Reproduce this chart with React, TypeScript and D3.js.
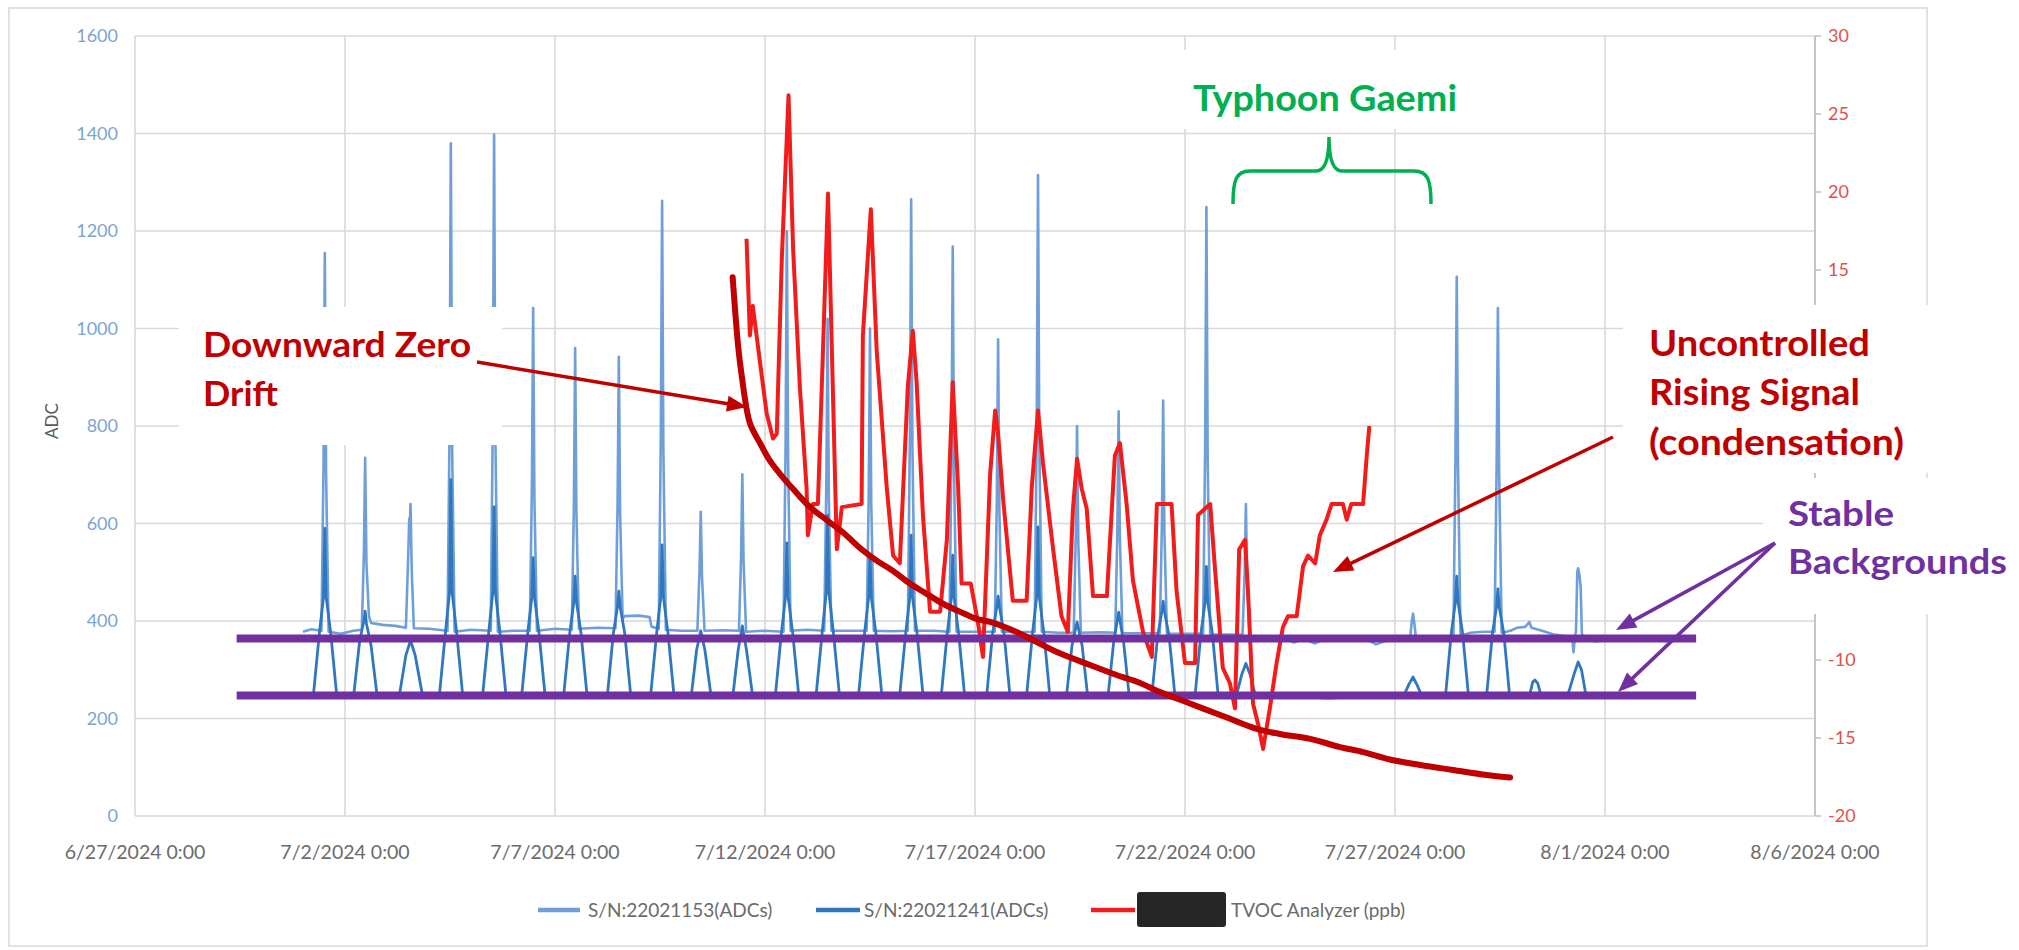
import React from "react";
import * as d3 from "d3";

// ---------------- DATA ----------------
const T0 = Date.UTC(2024, 5, 27); // 6/27/2024 0:00
const dayToDate = (d: number) => new Date(T0 + d * 86400000);

const xTickLabels = [
  "6/27/2024 0:00", "7/2/2024 0:00", "7/7/2024 0:00", "7/12/2024 0:00", "7/17/2024 0:00",
  "7/22/2024 0:00", "7/27/2024 0:00", "8/1/2024 0:00", "8/6/2024 0:00",
];
const leftTicks = [0, 200, 400, 600, 800, 1000, 1200, 1400, 1600];
const rightTicks = [-20, -15, -10, -5, 0, 5, 10, 15, 20, 25, 30];
const seriesNames = ["S/N:22021153(ADCs)", "S/N:22021241(ADCs)", "TVOC Analyzer (ppb)"];
const seriesColors = ["#6E9FD8", "#2F77BF", "#F21C1C"];

// [days since 6/27/2024 0:00, ADC]
const s22021153: [number, number][] = [
  [4.0, 378], [4.2, 383], [4.44, 380], [4.49, 730], [4.52, 1155], [4.55, 700], [4.61, 378], [4.9, 374], [5.2, 380],
  [5.4, 382], [5.45, 540], [5.48, 735], [5.51, 520], [5.57, 410], [5.62, 396], [5.9, 392], [6.2, 390], [6.45, 386],
  [6.5, 520], [6.53, 610], [6.545, 600], [6.56, 640], [6.59, 500], [6.64, 385], [7.0, 384],
  [7.44, 380], [7.49, 800], [7.52, 1380], [7.55, 760], [7.61, 378], [8.0, 382],
  [8.47, 380], [8.52, 820], [8.55, 1398], [8.58, 780], [8.64, 378], [9.0, 380],
  [9.4, 380], [9.45, 680], [9.48, 1042], [9.51, 650], [9.57, 380], [10.0, 384],
  [10.4, 382], [10.45, 640], [10.48, 960], [10.51, 620], [10.57, 384], [11.0, 386],
  [11.44, 385], [11.49, 640], [11.52, 942], [11.55, 620], [11.61, 405], [11.66, 410], [12.0, 411], [12.25, 408], [12.3, 388],
  [12.47, 384], [12.52, 780], [12.55, 1262], [12.58, 750], [12.64, 382], [13.0, 380],
  [13.39, 380], [13.44, 500], [13.47, 624], [13.5, 490], [13.56, 380], [14.0, 381],
  [14.38, 380], [14.43, 530], [14.46, 701], [14.49, 520], [14.55, 378], [15.0, 380],
  [15.44, 378], [15.49, 760], [15.52, 1200], [15.55, 730], [15.61, 380], [16.0, 382],
  [16.41, 380], [16.46, 680], [16.49, 1020], [16.52, 650], [16.58, 380], [17.0, 380],
  [17.42, 380], [17.47, 660], [17.5, 1000], [17.53, 640], [17.59, 380], [18.0, 379],
  [18.4, 380], [18.45, 780], [18.48, 1265], [18.51, 760], [18.57, 380], [19.0, 380],
  [19.39, 378], [19.44, 740], [19.47, 1168], [19.5, 720], [19.56, 378], [20.0, 378],
  [20.47, 378], [20.52, 650], [20.55, 978], [20.58, 630], [20.64, 378], [21.0, 377],
  [21.42, 378], [21.47, 800], [21.5, 1315], [21.53, 780], [21.59, 378], [22.0, 376],
  [22.35, 376], [22.4, 580], [22.43, 800], [22.46, 560], [22.52, 376], [23.0, 377],
  [23.34, 376], [23.39, 590], [23.42, 830], [23.45, 570], [23.51, 375], [24.0, 375],
  [24.4, 375], [24.45, 600], [24.48, 852], [24.51, 580], [24.57, 374], [25.0, 374],
  [25.43, 374], [25.48, 760], [25.51, 1249], [25.54, 730], [25.6, 372], [26.0, 372],
  [26.37, 372], [26.42, 500], [26.45, 640], [26.48, 480], [26.54, 368],
  [26.8, 365], [27.1, 362], [27.3, 366], [27.6, 356], [27.8, 364], [28.1, 354], [28.3, 362], [28.7, 366],
  [29.0, 360], [29.3, 364], [29.55, 352], [29.8, 360], [30.1, 366],
  [30.36, 365], [30.4, 400], [30.43, 415], [30.46, 395], [30.5, 365], [30.8, 362], [31.1, 360],
  [31.39, 362], [31.44, 740], [31.47, 1106], [31.5, 720], [31.56, 370], [31.8, 376], [32.1, 378],
  [32.37, 378], [32.42, 720], [32.45, 1042], [32.48, 700], [32.54, 376], [32.75, 380], [32.9, 386],
  [33.1, 388], [33.2, 398], [33.25, 386], [33.5, 380], [33.8, 372], [34.1, 368], [34.22, 365], [34.25, 336], [34.28, 362],
  [34.31, 380], [34.34, 500], [34.36, 508], [34.39, 495], [34.42, 470], [34.45, 372], [34.6, 362], [34.8, 358], [34.95, 362],
];

const s22021241: [number, number][] = [
  [4.0, 250], [4.25, 250], [4.39, 375], [4.49, 450], [4.52, 590], [4.55, 450], [4.66, 375], [4.8, 250],
  [5.21, 250], [5.35, 360], [5.45, 400], [5.48, 420], [5.51, 395], [5.62, 350], [5.76, 250],
  [6.3, 250], [6.45, 330], [6.56, 360], [6.67, 330], [6.84, 250],
  [7.25, 250], [7.39, 375], [7.49, 460], [7.52, 690], [7.55, 460], [7.66, 375], [7.8, 250],
  [8.28, 250], [8.42, 375], [8.52, 460], [8.55, 634], [8.58, 460], [8.69, 375], [8.83, 250],
  [9.21, 250], [9.35, 375], [9.45, 450], [9.48, 530], [9.51, 450], [9.62, 375], [9.76, 250],
  [10.21, 250], [10.35, 375], [10.45, 440], [10.48, 492], [10.51, 440], [10.62, 375], [10.76, 250],
  [11.25, 250], [11.39, 375], [11.49, 430], [11.52, 461], [11.55, 430], [11.66, 375], [11.8, 250],
  [12.28, 250], [12.42, 375], [12.52, 450], [12.55, 556], [12.58, 450], [12.69, 375], [12.83, 250],
  [13.25, 250], [13.37, 340], [13.47, 380], [13.57, 340], [13.71, 250],
  [14.24, 250], [14.36, 340], [14.46, 390], [14.56, 340], [14.7, 250],
  [15.25, 250], [15.39, 375], [15.49, 450], [15.52, 560], [15.55, 450], [15.66, 375], [15.8, 250],
  [16.22, 250], [16.36, 375], [16.46, 460], [16.49, 617], [16.52, 460], [16.63, 375], [16.77, 250],
  [17.23, 250], [17.37, 375], [17.47, 450], [17.5, 535], [17.53, 450], [17.64, 375], [17.78, 250],
  [18.21, 250], [18.35, 375], [18.45, 450], [18.48, 576], [18.51, 450], [18.62, 375], [18.76, 250],
  [19.2, 250], [19.34, 375], [19.44, 450], [19.47, 535], [19.5, 450], [19.61, 375], [19.75, 250],
  [20.28, 249], [20.42, 375], [20.52, 430], [20.55, 451], [20.58, 430], [20.69, 375], [20.83, 249],
  [21.23, 248], [21.37, 375], [21.47, 450], [21.5, 593], [21.53, 450], [21.64, 375], [21.78, 248],
  [22.18, 248], [22.31, 350], [22.43, 398], [22.55, 350], [22.68, 248],
  [23.17, 248], [23.3, 355], [23.42, 418], [23.54, 355], [23.67, 248],
  [24.21, 247], [24.35, 370], [24.45, 420], [24.48, 440], [24.51, 420], [24.62, 370], [24.76, 247],
  [25.24, 247], [25.38, 375], [25.48, 440], [25.51, 512], [25.54, 440], [25.65, 375], [25.79, 247],
  [26.22, 246], [26.35, 290], [26.45, 313], [26.55, 290], [26.68, 246],
  [27.2, 243], [27.8, 245], [28.4, 242], [29.0, 244], [29.6, 243], [30.2, 245],
  [30.33, 270], [30.43, 285], [30.53, 268], [30.65, 244],
  [31.2, 244], [31.34, 375], [31.44, 440], [31.47, 492], [31.5, 440], [31.61, 375], [31.75, 246],
  [32.18, 246], [32.32, 375], [32.42, 430], [32.45, 466], [32.48, 430], [32.59, 375], [32.73, 246],
  [33.2, 246], [33.28, 275], [33.33, 279], [33.4, 272], [33.48, 246],
  [34.1, 244], [34.26, 290], [34.36, 316], [34.44, 300], [34.55, 246], [34.8, 243], [34.95, 245],
];

// [days since 6/27/2024 0:00, ppb]
const tvocPpb: [number, number][] = [
  [14.56, 17.0], [14.64, 10.8], [14.71, 12.7], [14.88, 9.1], [15.04, 5.8], [15.19, 4.2], [15.28, 4.5],
  [15.4, 15.7], [15.56, 26.2], [15.67, 16.3], [15.83, 7.5], [15.99, 1.0], [16.02, -2.0], [16.14, 0.0], [16.26, 0.0],
  [16.38, 9.8], [16.5, 19.9], [16.59, 10.1], [16.71, -2.9], [16.83, -0.2], [17.3, 0.0],
  [17.33, 10.8], [17.52, 18.9], [17.66, 9.8], [17.9, 1.0], [18.05, -3.3], [18.21, -3.8],
  [18.4, 7.5], [18.52, 11.1], [18.61, 7.8], [18.76, -0.7], [18.93, -6.9], [19.17, -6.9],
  [19.33, -2.3], [19.47, 7.8], [19.6, 1.0], [19.68, -5.1], [19.9, -5.1], [20.07, -7.6], [20.19, -9.8],
  [20.36, 1.9], [20.48, 6.0], [20.55, 4.5], [20.67, 0.3], [20.9, -6.2], [21.23, -6.2],
  [21.35, 1.0], [21.5, 6.0], [21.62, 2.6], [21.86, -2.9], [22.06, -7.2], [22.21, -8.2],
  [22.33, -0.4], [22.43, 2.9], [22.54, 1.0], [22.66, -0.3], [22.81, -5.9], [23.14, -5.9],
  [23.33, 3.1], [23.45, 3.9], [23.61, 0.0], [23.76, -4.9], [24.0, -8.2], [24.21, -9.8],
  [24.33, 0.0], [24.68, 0.0], [24.8, -5.6], [25.0, -10.2], [25.24, -10.2],
  [25.31, -0.7], [25.6, 0.0], [25.71, -4.0], [25.9, -10.5], [26.07, -11.5], [26.19, -13.1],
  [26.29, -2.9], [26.43, -2.3], [26.5, -5.6], [26.62, -12.8], [26.74, -14.1], [26.86, -15.7],
  [27.02, -13.1], [27.18, -10.2], [27.33, -7.9], [27.45, -7.2], [27.66, -7.2], [27.81, -4.0],
  [27.93, -3.3], [28.1, -3.8], [28.21, -2.0], [28.37, -1.0], [28.49, 0.0], [28.76, 0.0],
  [28.85, -1.0], [28.96, 0.0], [29.24, 0.0], [29.33, 3.2], [29.39, 5.0],
];

// hand-drawn "Downward Zero Drift" trend, in [day, ppb]
const driftTrend: [number, number][] = [
  [14.23, 14.53], [14.36, 10.13], [14.45, 8.14], [14.64, 5.19], [14.88, 3.91], [15.12, 2.76], [15.36, 1.92],
  [15.67, 0.96], [16.07, -0.19], [16.47, -1.03], [16.86, -1.83], [17.26, -2.82], [17.66, -3.63], [18.05, -4.29],
  [18.45, -5.1], [18.85, -5.76], [19.25, -6.41], [19.64, -6.9], [20.04, -7.37], [20.36, -7.56], [20.99, -8.21],
  [21.95, -9.49], [22.74, -10.32], [23.37, -10.96], [23.93, -11.47], [24.33, -11.97], [25.12, -12.79],
  [25.9, -13.59], [26.71, -14.42], [27.26, -14.74], [27.98, -15.06], [28.69, -15.58], [29.24, -15.9],
  [29.88, -16.38], [30.6, -16.73], [31.38, -17.05], [32.18, -17.37], [32.74, -17.53],
];

// stable background guide lines (ADC) and their day span
const stableLevels = [364, 247];
const stableSpan = [2.42, 37.17];

// ---------------- LAYOUT ----------------
const W = 2019;
const H = 950;
const PL = 135, PR = 1815, PT = 36, PB = 816;
const FONT = "Lato, 'Open Sans', 'Liberation Sans', sans-serif";
const DARKRED = "#C00000";
const GREEN = "#00B050";
const PURPLE = "#7030A0";

// white label boxes [x, y, w, h]
const boxes: [number, number, number, number][] = [
  [179, 307, 323, 138],
  [1172, 50, 308, 79],
  [1623, 305, 312, 168],
  [1763, 478, 256, 136],
];
const covered = (px: number, py: number) =>
  boxes.some(([bx, by, bw, bh]) => px >= bx && px <= bx + bw && py >= by - 8 && py <= by + bh + 8);

function Arrow({ x1, y1, x2, y2, color, w = 3.5, head = 20, hw = 8 }: any) {
  const dx = x2 - x1, dy = y2 - y1;
  const L = Math.hypot(dx, dy);
  const ux = dx / L, uy = dy / L;
  const bx = x2 - ux * head, by = y2 - uy * head;
  const px = -uy * hw, py = ux * hw;
  return (
    <g>
      <line x1={x1} y1={y1} x2={bx + ux * 2} y2={by + uy * 2} stroke={color} strokeWidth={w} />
      <polygon points={`${x2},${y2} ${bx + px},${by + py} ${bx - px},${by - py}`} fill={color} />
    </g>
  );
}

export default function App() {
  const x = d3.scaleUtc().domain([dayToDate(0), dayToDate(40)]).range([PL, PR]);
  const yL = d3.scaleLinear().domain([0, 1600]).range([PB, PT]);
  const yR = d3.scaleLinear().domain([-20, 30]).range([PB, PT]);
  const parse = d3.utcParse("%m/%d/%Y %H:%M");

  const lineL = d3.line<[number, number]>().x((d) => x(dayToDate(d[0]))).y((d) => yL(d[1]));
  const lineR = d3.line<[number, number]>().x((d) => x(dayToDate(d[0]))).y((d) => yR(d[1]));
  const lineDrift = d3
    .line<[number, number]>()
    .x((d) => x(dayToDate(d[0])))
    .y((d) => yR(d[1]))
    .curve(d3.curveCatmullRom);

  const xTicks = xTickLabels.map((s) => ({ s, d: parse(s) as Date }));

  return (
    <svg
      width={W}
      height={H}
      viewBox={`0 0 ${W} ${H}`}
      style={{ position: "absolute", left: 0, top: 0, background: "#fff" }}
      fontFamily={FONT}
    >
      <rect x={0} y={0} width={W} height={H} fill="#fff" />
      {/* chart area frame */}
      <rect x={9} y={8} width={1918} height={938} fill="none" stroke="#D9D9D9" strokeWidth={1.5} />

      {/* gridlines */}
      {leftTicks.map((t) => (
        <line key={"h" + t} x1={PL} x2={PR} y1={yL(t)} y2={yL(t)} stroke="#D9D9D9" strokeWidth={1.6} />
      ))}
      {xTicks.map((t) => (
        <line key={"v" + t.s} x1={x(t.d)} x2={x(t.d)} y1={PT} y2={PB} stroke="#D9D9D9" strokeWidth={1.6} />
      ))}

      {/* series */}
      <path d={lineL(s22021153) || ""} fill="none" stroke={seriesColors[0]} strokeWidth={2.6} strokeLinejoin="round" />
      <path d={lineL(s22021241) || ""} fill="none" stroke={seriesColors[1]} strokeWidth={2.8} strokeLinejoin="round" />
      <path d={lineR(tvocPpb) || ""} fill="none" stroke={seriesColors[2]} strokeWidth={4} strokeLinejoin="round" />

      {/* left axis labels */}
      {leftTicks.map((t) => (
        <text key={"lt" + t} x={118} y={yL(t)} dy="0.35em" textAnchor="end" fontSize={18} fill="#7DA4D4">
          {t}
        </text>
      ))}
      <text
        transform={`translate(52,${yL(810)}) rotate(-90)`}
        textAnchor="middle"
        dy="0.35em"
        fontSize={17}
        fill="#595959"
      >
        ADC
      </text>

      {/* right axis */}
      <line x1={PR} x2={PR} y1={PT} y2={PB} stroke="#BFBFBF" strokeWidth={1.6} />
      {rightTicks.map((t) => (
        <g key={"rt" + t}>
          <line x1={PR} x2={PR + 6} y1={yR(t)} y2={yR(t)} stroke="#BFBFBF" strokeWidth={1.5} />
          {!covered(1835, yR(t)) && (
            <text x={1828} y={yR(t)} dy="0.35em" fontSize={18} fill="#E0504C">
              {t}
            </text>
          )}
        </g>
      ))}

      {/* x axis labels */}
      {xTicks.map((t) => (
        <text key={"xl" + t.s} x={x(t.d)} y={852} dy="0.35em" textAnchor="middle" fontSize={19.5} fill="#6B6B6B">
          {t.s}
        </text>
      ))}

      {/* legend */}
      <g fontSize={19} fill="#6B6B6B">
        <line x1={538} x2={580} y1={910} y2={910} stroke={seriesColors[0]} strokeWidth={4.5} />
        <text x={588} y={910} dy="0.35em">{seriesNames[0]}</text>
        <line x1={816} x2={860} y1={910} y2={910} stroke={seriesColors[1]} strokeWidth={4.5} />
        <text x={864} y={910} dy="0.35em">{seriesNames[1]}</text>
        <line x1={1091} x2={1135} y1={910} y2={910} stroke={seriesColors[2]} strokeWidth={4.5} />
        <rect x={1137} y={892} width={89} height={35} rx={3} fill="#262626" />
        <text x={1231} y={910} dy="0.35em">{seriesNames[2]}</text>
      </g>

      {/* annotation boxes */}
      {boxes.map(([bx, by, bw, bh], i) => (
        <rect key={"box" + i} x={bx} y={by} width={bw} height={bh} fill="#fff" />
      ))}

      {/* stable background lines */}
      {stableLevels.map((v) => (
        <line
          key={"st" + v}
          x1={x(dayToDate(stableSpan[0]))}
          x2={x(dayToDate(stableSpan[1]))}
          y1={yL(v)}
          y2={yL(v)}
          stroke={PURPLE}
          strokeWidth={8}
        />
      ))}

      {/* drift trend */}
      <path d={lineDrift(driftTrend) || ""} fill="none" stroke={DARKRED} strokeWidth={6} strokeLinecap="round" strokeLinejoin="round" />

      {/* texts */}
      <g fontWeight={700}>
        <text x={203} y={357} fontSize={35} fill={DARKRED} textLength={268} lengthAdjust="spacingAndGlyphs">Downward Zero</text>
        <text x={203} y={406} fontSize={35} fill={DARKRED} textLength={75} lengthAdjust="spacingAndGlyphs">Drift</text>
        <text x={1193} y={111} fontSize={36} fill={GREEN} textLength={264} lengthAdjust="spacingAndGlyphs">Typhoon Gaemi</text>
        <text x={1649} y={356} fontSize={36} fill={DARKRED} textLength={221} lengthAdjust="spacingAndGlyphs">Uncontrolled</text>
        <text x={1649} y={405} fontSize={36} fill={DARKRED} textLength={211} lengthAdjust="spacingAndGlyphs">Rising Signal</text>
        <text x={1649} y={455} fontSize={36} fill={DARKRED} textLength={255} lengthAdjust="spacingAndGlyphs">(condensation)</text>
        <text x={1788} y={526} fontSize={35} fill={PURPLE} textLength={106} lengthAdjust="spacingAndGlyphs">Stable</text>
        <text x={1788} y={574} fontSize={35} fill={PURPLE} textLength={219} lengthAdjust="spacingAndGlyphs">Backgrounds</text>
      </g>

      {/* brace */}
      <path
        d="M1233,204 C1233,180 1236,171 1250,171 L1316,171 C1325,171 1329,160 1329,137 C1329,160 1333,171 1342,171 L1414,171 C1428,171 1431,180 1431,204"
        fill="none"
        stroke={GREEN}
        strokeWidth={3.5}
      />

      {/* arrows */}
      <Arrow x1={477} y1={362} x2={747} y2={407} color={DARKRED} />
      <Arrow x1={1613} y1={437} x2={1333} y2={572} color={DARKRED} />
      <Arrow x1={1775} y1={543} x2={1616} y2={630} color={PURPLE} />
      <Arrow x1={1775} y1={543} x2={1618} y2={692} color={PURPLE} />
    </svg>
  );
}
